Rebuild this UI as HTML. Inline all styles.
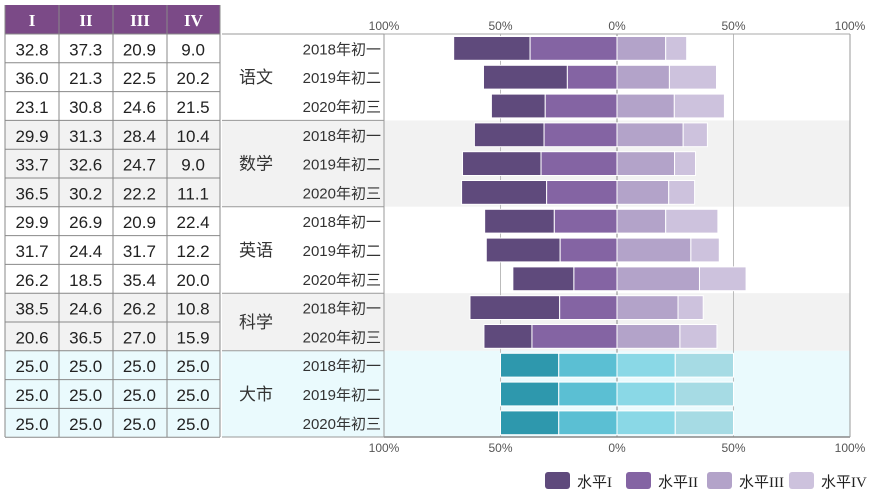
<!DOCTYPE html>
<html><head><meta charset="utf-8">
<style>
body{margin:0;width:875px;height:495px;background:#fff;overflow:hidden;font-family:"Liberation Sans","Noto Sans CJK SC",sans-serif;}
svg text{font-family:"Liberation Sans","Noto Sans CJK SC",sans-serif;}
svg text.serif{font-family:"Liberation Serif","Noto Sans CJK SC",serif;}
</style></head>
<body>
<svg id="c" width="875" height="495" xmlns="http://www.w3.org/2000/svg"></svg>
<script>
const groups=["语文","数学","英语","科学","大市"];
const groupSizes=[3,3,3,2,3];
const rowLabels=["2018年初一","2019年初二","2020年初三","2018年初一","2019年初二","2020年初三","2018年初一","2019年初二","2020年初三","2018年初一","2020年初三","2018年初一","2019年初二","2020年初三"];
const levelI=[32.8,36.0,23.1,29.9,33.7,36.5,29.9,31.7,26.2,38.5,20.6,25.0,25.0,25.0];
const levelII=[37.3,21.3,30.8,31.3,32.6,30.2,26.9,24.4,18.5,24.6,36.5,25.0,25.0,25.0];
const levelIII=[20.9,22.5,24.6,28.4,24.7,22.2,20.9,31.7,35.4,26.2,27.0,25.0,25.0,25.0];
const levelIV=[9.0,20.2,21.5,10.4,9.0,11.1,22.4,12.2,20.0,10.8,15.9,25.0,25.0,25.0];
const tickVals=[-100,-50,0,50,100];
const tickLabels=["100%","50%","0%","50%","100%"];
const colHeaders=["I","II","III","IV"];
const legendLabels=["水平I","水平II","水平III","水平IV"];

const svg=document.getElementById('c');
const NS="http://www.w3.org/2000/svg";
function mk(t,a,p){const e=document.createElementNS(NS,t);for(const k in a)e.setAttribute(k,a[k]);(p||svg).appendChild(e);return e;}
const x0=617,sc=2.33,top0=34,rh=28.8;
const X=v=>x0+v*sc;
const Y=i=>top0+i*rh;
const purple=["#5f4a7c","#8464a3","#b3a3c9","#cdc2dd"];
const teal=["#2e98ad","#5bbfd3","#8ad8e6","#a6dbe4"];
const bandFill=["#ffffff","#f2f2f2","#ffffff","#f2f2f2","#eafafd"];
let r=0;
groups.forEach((g,gi)=>{
  const n=groupSizes[gi];
  const b=mk('rect',{x:222,y:Y(r),width:628,height:n*rh,fill:bandFill[gi]});
  
  const tb=mk('rect',{x:5,y:Y(r),width:215,height:n*rh,fill:bandFill[gi]});
  
  mk('line',{x1:222,x2:384,y1:Y(r),y2:Y(r),stroke:'#999'});
  const t=mk('text',{x:256,y:Y(r)+n*rh/2+6,'font-size':17,fill:'#333','text-anchor':'middle'});t.textContent=g;
  
  r+=n;
});
tickVals.forEach((v,i)=>{
  mk('line',{x1:X(v),x2:X(v),y1:top0,y2:437,stroke:(v===0?'#888':'#bbb'),'stroke-width':1});
  const t1=mk('text',{x:X(v),y:30,'font-size':12,fill:'#555','text-anchor':'middle'});t1.textContent=tickLabels[i];
  
  const t2=mk('text',{x:X(v),y:452,'font-size':12,fill:'#555','text-anchor':'middle'});t2.textContent=tickLabels[i];
  
});
mk('line',{x1:384,x2:850,y1:437,y2:437,stroke:'#888','stroke-width':1.5});
mk('line',{x1:384,x2:850,y1:34,y2:34,stroke:'#aaa','stroke-width':1});
mk('line',{x1:384,x2:384,y1:34,y2:437,stroke:'#999'});
mk('line',{x1:850,x2:850,y1:34,y2:437,stroke:'#999'});
rowLabels.forEach((lab,i)=>{
  const cols=i>=11?teal:purple;
  const y=Y(i)+2.5,h=rh-5;
  const a=levelI[i],b=levelII[i],c=levelIII[i],d=levelIV[i];
  const segs=[[-(a+b),-b],[-b,0],[0,c],[c,c+d]];
  segs.forEach((s,k)=>{
    const e=mk('rect',{x:X(s[0]),y:y,width:X(s[1])-X(s[0]),height:h,fill:cols[k],stroke:'#fff','stroke-width':1});
    
  });
  const t=mk('text',{x:381,y:Y(i)+rh/2+6,'font-size':15,fill:'#333','text-anchor':'end'});t.textContent=lab;
  
  [a,b,c,d].forEach((v,k)=>{
    const tt=mk('text',{x:32+k*53.7,y:Y(i)+rh/2+7,'font-size':17,fill:'#222','text-anchor':'middle'});tt.textContent=v.toFixed(1);
    
  });
  mk('line',{x1:5,x2:220,y1:Y(i+1),y2:Y(i+1),stroke:'#888'});
});
const hd=mk('rect',{x:5,y:5,width:215,height:29,fill:'#7b4a87'});

const colX=[5,59,113,167,220];
colHeaders.forEach((h,k)=>{
  const t=mk('text',{x:(colX[k]+colX[k+1])/2,y:26,'font-size':17,fill:'#fff','text-anchor':'middle','class':'serif','font-weight':'bold'});t.textContent=h;
  
});
colX.forEach(x=>mk('line',{x1:x,x2:x,y1:5,y2:437,stroke:'#888'}));
mk('line',{x1:5,x2:220,y1:34,y2:34,stroke:'#888'});
mk('line',{x1:222,x2:384,y1:437,y2:437,stroke:'#999'});
const lx=[545,626,707,789];
legendLabels.forEach((l,k)=>{
  const b=mk('rect',{x:lx[k],y:472,width:25,height:17,rx:3,fill:purple[k]});
  
  const t=mk('text',{x:lx[k]+32,y:487,'font-size':15,fill:'#222','class':'serif'});t.textContent=l;
  
});
</script>
</body></html>
